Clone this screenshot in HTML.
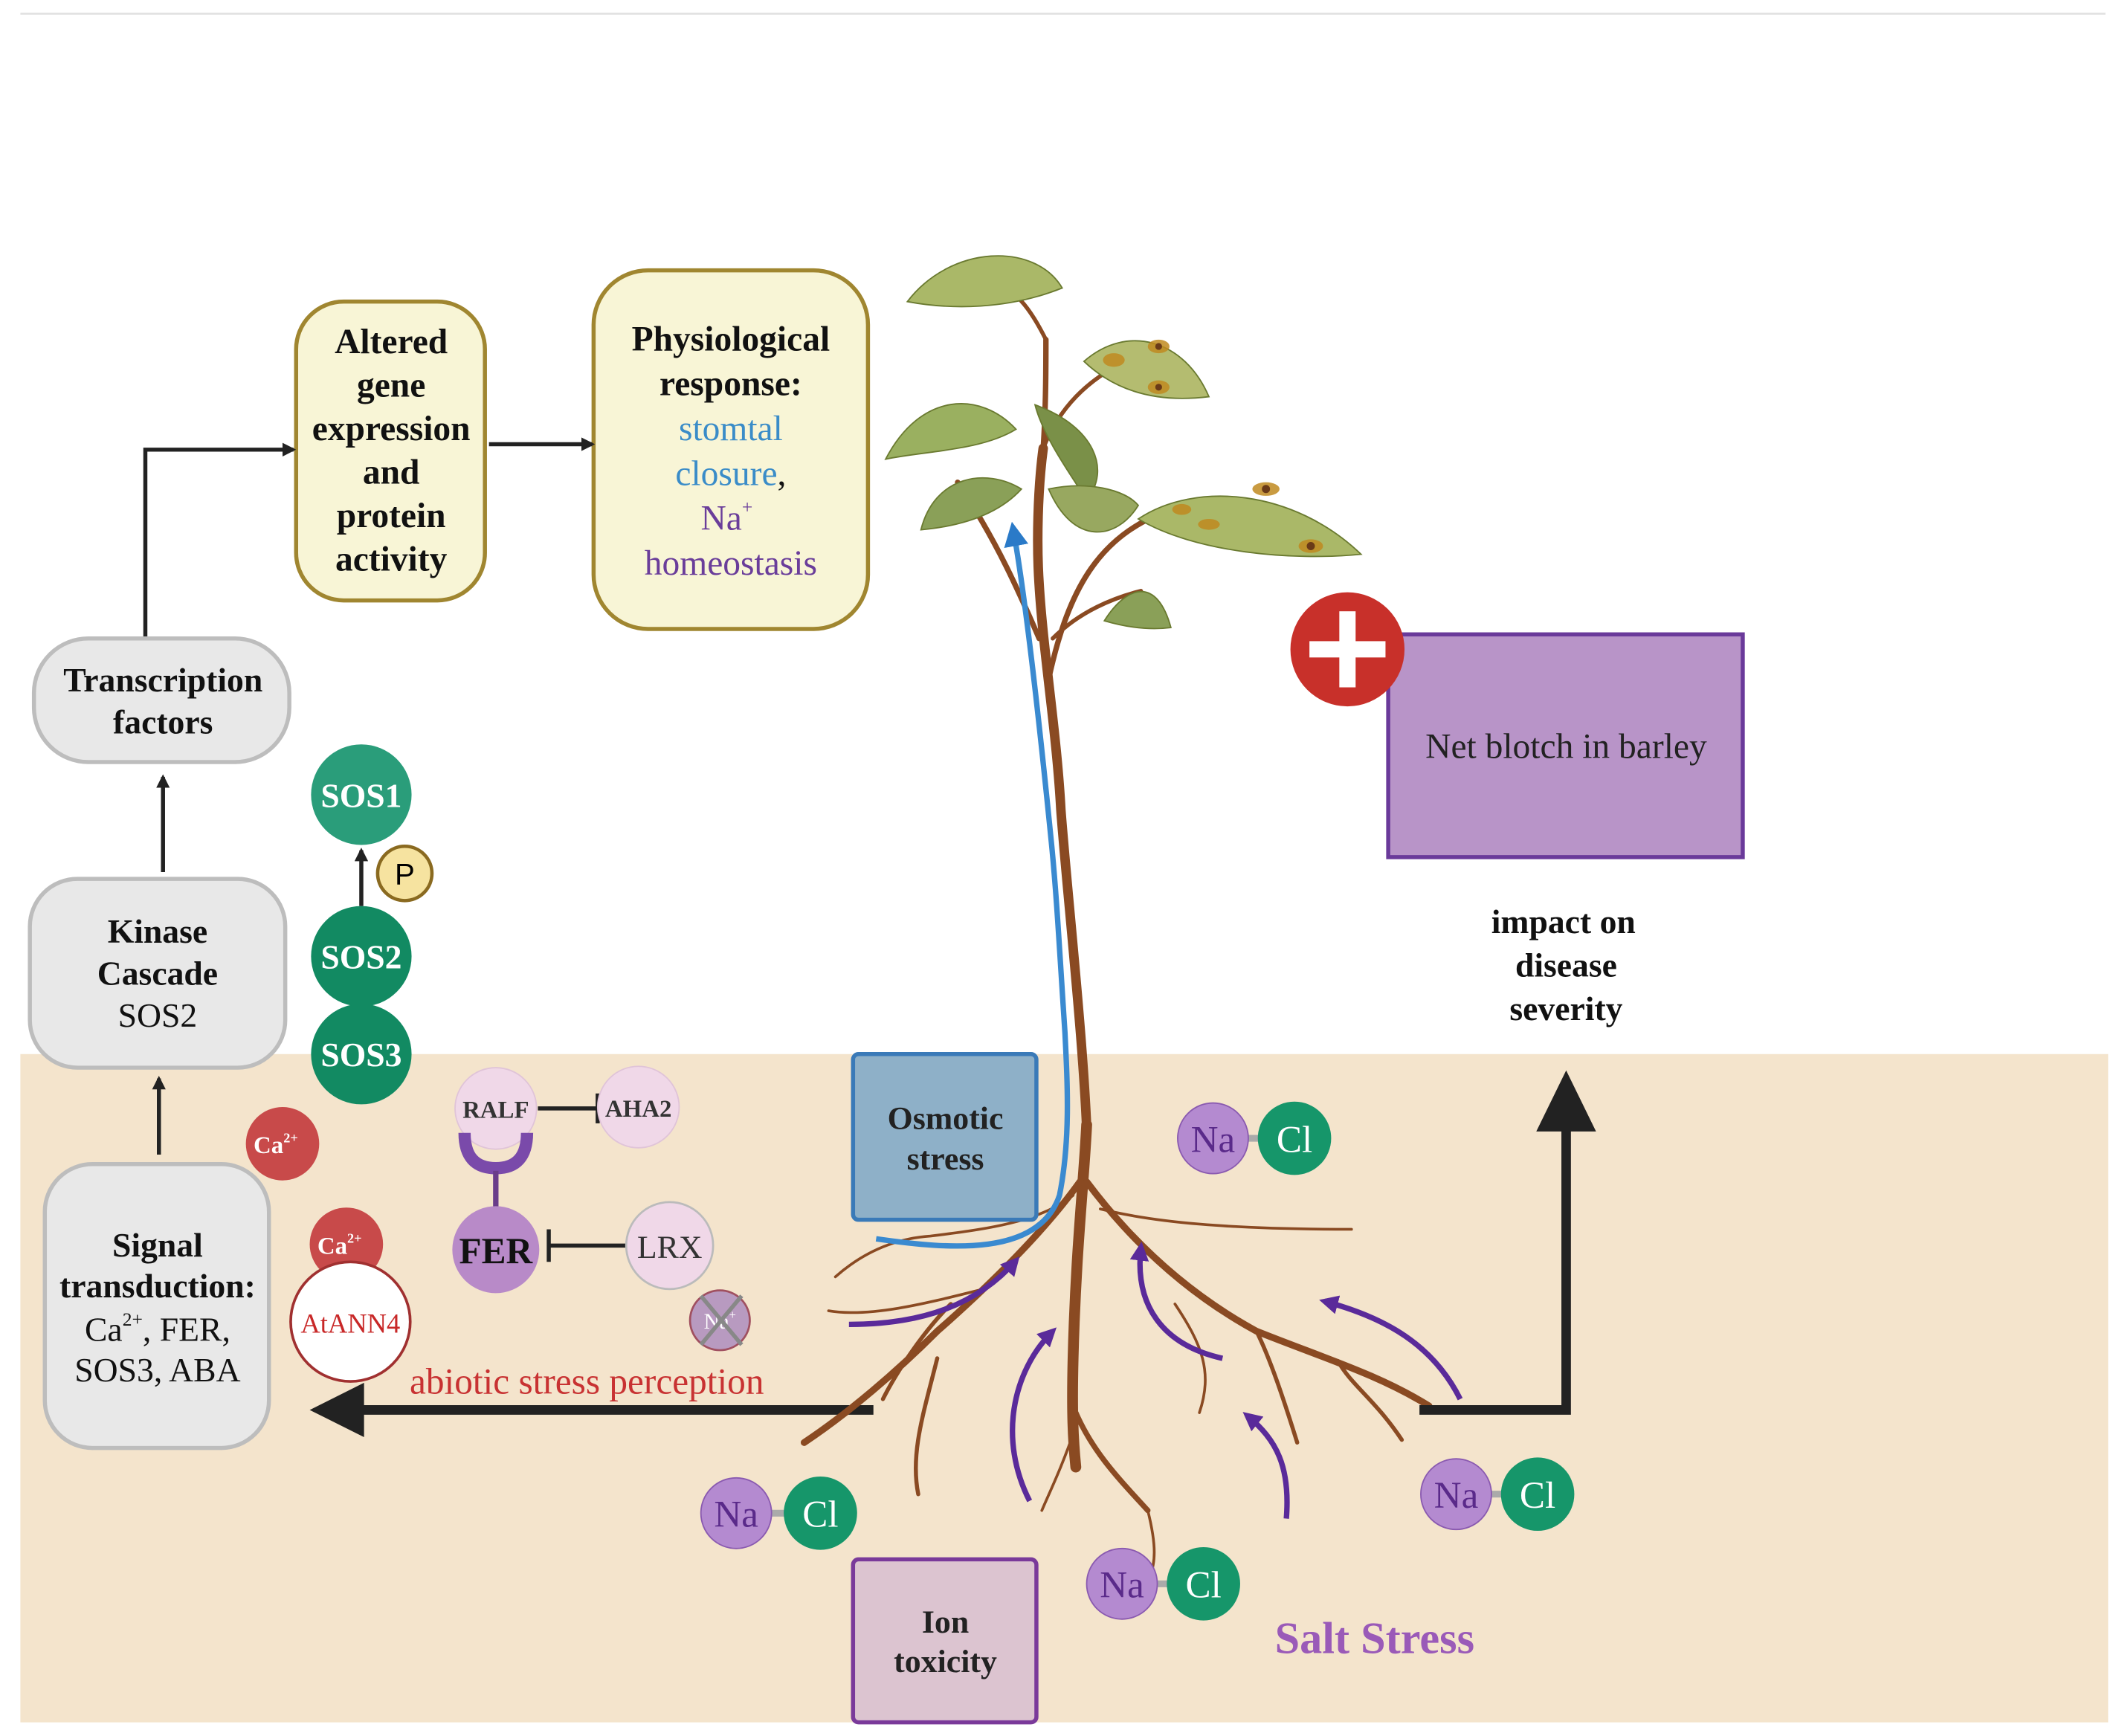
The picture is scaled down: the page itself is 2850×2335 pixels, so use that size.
<!DOCTYPE html>
<html><head><meta charset="utf-8"><style>
html,body{margin:0;padding:0;background:#fff;}
svg{display:block;}
text{font-family:"Liberation Serif",serif;}
</style></head><body>
<svg width="2850" height="2335" viewBox="0 0 1560 1278" xmlns="http://www.w3.org/2000/svg">
<defs>
<marker id="ah" markerWidth="10" markerHeight="10" refX="8" refY="5" orient="auto" markerUnits="userSpaceOnUse"><path d="M0,0 L10,5 L0,10 z" fill="#222"/></marker>
<marker id="pa" markerWidth="14" markerHeight="14" refX="10" refY="7" orient="auto" markerUnits="userSpaceOnUse"><path d="M0,0 L14,7 L0,14 z" fill="#5a2a9a"/></marker>
<marker id="ba" markerWidth="18" markerHeight="18" refX="12" refY="9" orient="auto" markerUnits="userSpaceOnUse"><path d="M0,0 L18,9 L0,18 z" fill="#2a7ac8"/></marker>
</defs>
<line x1="15" y1="10" x2="1550" y2="10" stroke="#e2e2e2" stroke-width="1.5"/>
<rect x="15" y="776" width="1537" height="492" fill="#f4e4cc"/>

<rect x="218" y="222" width="139" height="220" rx="35" fill="#f8f5d6" stroke="#a08630" stroke-width="3"/>
<g font-weight="bold" font-size="26" text-anchor="middle" fill="#111">
<text x="288" y="260">Altered</text><text x="288" y="292">gene</text><text x="288" y="324">expression</text><text x="288" y="356">and</text><text x="288" y="388">protein</text><text x="288" y="420">activity</text>
</g>
<rect x="437" y="199" width="202" height="264" rx="40" fill="#f8f5d6" stroke="#a08630" stroke-width="3"/>
<g font-size="26" text-anchor="middle">
<text x="538" y="258" font-weight="bold" fill="#111">Physiological</text>
<text x="538" y="291" font-weight="bold" fill="#111">response:</text>
<text x="538" y="324" fill="#3a8cc8">stomtal</text>
<text x="538" y="357"><tspan fill="#3a8cc8">closure</tspan><tspan fill="#111">,</tspan></text>
<text x="535" y="390" fill="#6a3d9a">Na<tspan font-size="14" dy="-12">+</tspan></text>
<text x="538" y="423" fill="#6a3d9a">homeostasis</text>
</g>
<line x1="360" y1="327" x2="436" y2="327" stroke="#222" stroke-width="3" marker-end="url(#ah)"/>
<polyline points="107,470 107,331 216,331" fill="none" stroke="#222" stroke-width="3" marker-end="url(#ah)"/>

<rect x="25" y="470" width="188" height="91" rx="40" fill="#e8e8e8" stroke="#bdbdbd" stroke-width="3"/>
<g font-weight="bold" font-size="25" text-anchor="middle" fill="#111">
<text x="120" y="509">Transcription</text><text x="120" y="540">factors</text></g>
<line x1="120" y1="642" x2="120" y2="572" stroke="#222" stroke-width="3" marker-end="url(#ah)"/>
<rect x="22" y="647" width="188" height="139" rx="35" fill="#e8e8e8" stroke="#bdbdbd" stroke-width="3"/>
<g font-size="25" text-anchor="middle" fill="#111">
<text x="116" y="694" font-weight="bold">Kinase</text><text x="116" y="725" font-weight="bold">Cascade</text><text x="116" y="756">SOS2</text></g>
<line x1="117" y1="850" x2="117" y2="794" stroke="#222" stroke-width="3" marker-end="url(#ah)"/>
<rect x="33" y="857" width="165" height="209" rx="35" fill="#e8e8e8" stroke="#bdbdbd" stroke-width="3"/>
<g font-size="25" text-anchor="middle" fill="#111">
<text x="116" y="925" font-weight="bold">Signal</text><text x="116" y="955" font-weight="bold">transduction:</text>
<text x="116" y="987">Ca<tspan font-size="14" dy="-11">2+</tspan><tspan dy="11">, FER,</tspan></text><text x="116" y="1017">SOS3, ABA</text></g>

<circle cx="266" cy="776" r="37" fill="#128a62"/>
<circle cx="266" cy="704" r="37" fill="#128a62"/>
<circle cx="266" cy="585" r="37" fill="#2a9d7a"/>
<g font-weight="bold" font-size="25" text-anchor="middle" fill="#fff">
<text x="266" y="594">SOS1</text><text x="266" y="713">SOS2</text><text x="266" y="785">SOS3</text></g>
<line x1="266" y1="667" x2="266" y2="626" stroke="#222" stroke-width="3" marker-end="url(#ah)"/>
<circle cx="298" cy="643" r="20" fill="#f6e3a0" stroke="#8a6a20" stroke-width="2.5"/>
<text x="298" y="651" text-anchor="middle" font-size="22" style="font-family:'Liberation Sans',sans-serif">P</text>

<circle cx="208" cy="842" r="27" fill="#c84a4a"/>
<text x="203" y="849" text-anchor="middle" font-size="18" font-weight="bold" fill="#fff">Ca<tspan font-size="10" dy="-8">2+</tspan></text>
<circle cx="255" cy="916" r="27" fill="#c84a4a"/>
<text x="250" y="923" text-anchor="middle" font-size="18" font-weight="bold" fill="#fff">Ca<tspan font-size="10" dy="-8">2+</tspan></text>
<circle cx="258" cy="973" r="44" fill="#fff" stroke="#a03030" stroke-width="2"/>
<text x="258" y="981" text-anchor="middle" font-size="20" fill="#c82828">AtANN4</text>

<line x1="396" y1="816" x2="440" y2="816" stroke="#222" stroke-width="3"/><line x1="440" y1="805" x2="440" y2="827" stroke="#222" stroke-width="3"/>
<circle cx="470" cy="815" r="30" fill="#f0d8e8" stroke="#e0c4d8"/>
<text x="470" y="822" text-anchor="middle" font-size="18" font-weight="bold" fill="#333">AHA2</text>
<circle cx="365" cy="816" r="30" fill="#f0d8e8" stroke="#e0c4d8"/>
<path d="M342,834 Q342,860 365,860 Q388,860 388,834" fill="none" stroke="#7a4aaa" stroke-width="9"/>
<line x1="365" y1="862" x2="365" y2="890" stroke="#6a3d8a" stroke-width="4"/>
<text x="365" y="823" text-anchor="middle" font-size="18" font-weight="bold" fill="#333">RALF</text>
<circle cx="365" cy="920" r="32" fill="#b88ac8"/>
<text x="365" y="930" text-anchor="middle" font-size="27" font-weight="bold" fill="#111">FER</text>
<line x1="404" y1="917" x2="462" y2="917" stroke="#222" stroke-width="3"/><line x1="404" y1="905" x2="404" y2="929" stroke="#222" stroke-width="3"/>
<circle cx="493" cy="917" r="32" fill="#f0d8e8" stroke="#bbb" stroke-width="1.5"/>
<text x="493" y="926" text-anchor="middle" font-size="24" fill="#333">LRX</text>
<circle cx="530" cy="972" r="22" fill="#b89ac0" stroke="#a05060" stroke-width="1.5"/>
<text x="530" y="978" text-anchor="middle" font-size="16" fill="#fff">Na<tspan font-size="9" dy="-7">+</tspan></text>
<path d="M516,954 L546,990 M546,954 L516,990" stroke="#888" stroke-width="3"/>

<text x="432" y="1026" text-anchor="middle" font-size="27" fill="#c83232">abiotic stress perception</text>
<line x1="643" y1="1038" x2="262" y2="1038" stroke="#222" stroke-width="7"/>
<path d="M228,1038 L268,1018 L268,1058 z" fill="#222"/>

<!-- roots -->
<g fill="none" stroke="#8a4a22" stroke-linecap="round">
<path d="M800,828 C798,870 792,920 790,1000 C789,1040 790,1060 792,1080" stroke-width="8"/>
<path d="M795,870 C770,905 730,945 690,980 C660,1010 625,1040 592,1062" stroke-width="5"/>
<path d="M800,870 C830,910 870,950 925,980 C975,1000 1015,1012 1052,1035" stroke-width="5"/>
<path d="M792,1040 C805,1070 825,1090 845,1112" stroke-width="4"/>
<path d="M700,960 C680,980 660,1010 650,1030 M690,1000 C680,1040 670,1070 676,1100" stroke-width="3"/>
<path d="M925,980 C935,1000 945,1030 955,1062 M985,1002 C995,1020 1012,1030 1032,1060" stroke-width="3"/>
<path d="M790,880 C765,900 725,905 685,910 C655,912 632,925 615,940" stroke-width="2"/>
<path d="M810,890 C850,900 905,905 995,905" stroke-width="2"/>
<path d="M720,950 C680,960 640,970 610,965 M865,960 C885,990 893,1010 883,1040 M845,1112 C852,1140 850,1150 847,1160 M792,1050 C782,1080 772,1100 767,1112" stroke-width="2"/>
</g>
<!-- stem -->
<g fill="none" stroke="#8a4a22" stroke-linecap="round">
<path d="M800,830 C797,760 785,650 781,596 C778,540 768,480 765,430 C763,400 764,360 768,330" stroke-width="7"/>
<path d="M768,330 C770,300 770,270 770,250" stroke-width="4"/>
<path d="M765,470 C752,440 735,400 705,355" stroke-width="4"/>
<path d="M772,500 C785,440 805,400 850,380" stroke-width="4"/>
<path d="M768,330 C780,300 800,280 830,265" stroke-width="3"/>
<path d="M770,250 C760,230 750,215 730,205" stroke-width="3"/>
<path d="M775,470 C795,450 820,440 840,435" stroke-width="3"/>
</g>
<g stroke="#6a7a30" stroke-width="1">
<path d="M668,222 C700,180 762,178 782,212 C742,228 700,228 668,222 z" fill="#aab868"/>
<path d="M652,338 C678,288 722,288 748,316 C722,332 680,332 652,338 z" fill="#9ab060"/>
<path d="M678,390 C688,350 726,344 752,360 C732,382 700,388 678,390 z" fill="#8aa058"/>
<path d="M762,298 C768,322 790,352 800,368 C818,346 806,314 762,298 z" fill="#7a9048"/>
<path d="M772,360 C800,354 828,360 838,372 C822,398 790,402 772,360 z" fill="#98a860"/>
<path d="M798,266 C830,238 872,250 890,292 C850,297 820,287 798,266 z" fill="#b4bc70"/>
<path d="M838,382 C880,354 952,360 1002,408 C952,413 880,407 838,382 z" fill="#aab868"/>
<path d="M813,457 C830,430 852,425 862,462 C846,464 830,462 813,457 z" fill="#8aa058"/>
</g>
<g fill="#c08a20" opacity="0.85">
<ellipse cx="820" cy="265" rx="8" ry="5"/><ellipse cx="853" cy="255" rx="8" ry="5"/><ellipse cx="853" cy="285" rx="8" ry="5"/>
<ellipse cx="870" cy="375" rx="7" ry="4"/><ellipse cx="932" cy="360" rx="10" ry="5"/><ellipse cx="890" cy="386" rx="8" ry="4"/><ellipse cx="965" cy="402" rx="9" ry="5"/>
</g>
<g fill="#6a3a18"><circle cx="853" cy="255" r="2.5"/><circle cx="853" cy="285" r="2.5"/><circle cx="932" cy="360" r="3"/><circle cx="965" cy="402" r="3"/></g>

<rect x="628" y="776" width="135" height="122" rx="4" fill="#8eb0c8" stroke="#3a7ab8" stroke-width="3"/>
<g font-size="24" text-anchor="middle" font-weight="bold" fill="#222"><text x="696" y="831">Osmotic</text><text x="696" y="861">stress</text></g>
<rect x="628" y="1148" width="135" height="120" rx="4" fill="#dcc4d0" stroke="#7a3a9a" stroke-width="3"/>
<g font-size="24" text-anchor="middle" font-weight="bold" fill="#222"><text x="696" y="1202">Ion</text><text x="696" y="1231">toxicity</text></g>

<path d="M645,912 C700,920 765,925 780,880 C788,840 786,800 784,760 C780,700 778,660 774,620 C765,530 755,440 746,390" fill="none" stroke="#3a8ad0" stroke-width="4" marker-end="url(#ba)"/>
<g fill="none" stroke="#5a2a9a" stroke-width="4">
<path d="M625,975 C680,975 720,960 748,928" marker-end="url(#pa)"/>
<path d="M758,1105 C735,1060 745,1010 775,980" marker-end="url(#pa)"/>
<path d="M900,1000 C855,990 835,960 840,918" marker-end="url(#pa)"/>
<path d="M947,1118 C950,1080 940,1060 918,1042" marker-end="url(#pa)"/>
<path d="M1075,1030 C1055,990 1020,970 975,958" marker-end="url(#pa)"/>
</g>

<g style="font-family:'Liberation Sans',sans-serif" font-size="28" text-anchor="middle">
<g><line x1="542" y1="1114" x2="604" y2="1114" stroke="#aaa" stroke-width="5"/><circle cx="542" cy="1114" r="26" fill="#b48ad0" stroke="#8a5ab0"/><circle cx="604" cy="1114" r="27" fill="#16966a"/><text x="542" y="1124" fill="#5a2a8a">Na</text><text x="604" y="1124" fill="#fff">Cl</text></g>
<g><line x1="893" y1="838" x2="953" y2="838" stroke="#aaa" stroke-width="5"/><circle cx="893" cy="838" r="26" fill="#b48ad0" stroke="#8a5ab0"/><circle cx="953" cy="838" r="27" fill="#16966a"/><text x="893" y="848" fill="#5a2a8a">Na</text><text x="953" y="848" fill="#fff">Cl</text></g>
<g><line x1="826" y1="1166" x2="886" y2="1166" stroke="#aaa" stroke-width="5"/><circle cx="826" cy="1166" r="26" fill="#b48ad0" stroke="#8a5ab0"/><circle cx="886" cy="1166" r="27" fill="#16966a"/><text x="826" y="1176" fill="#5a2a8a">Na</text><text x="886" y="1176" fill="#fff">Cl</text></g>
<g><line x1="1072" y1="1100" x2="1132" y2="1100" stroke="#aaa" stroke-width="5"/><circle cx="1072" cy="1100" r="26" fill="#b48ad0" stroke="#8a5ab0"/><circle cx="1132" cy="1100" r="27" fill="#16966a"/><text x="1072" y="1110" fill="#5a2a8a">Na</text><text x="1132" y="1110" fill="#fff">Cl</text></g>
</g>
<text x="1012" y="1217" text-anchor="middle" font-size="33" font-weight="bold" fill="#9a5ab8">Salt Stress</text>

<rect x="1022" y="467" width="261" height="164" fill="#b894c8" stroke="#6a3a9a" stroke-width="3"/>
<text x="1153" y="558" text-anchor="middle" font-size="26" fill="#222">Net blotch in barley</text>
<circle cx="992" cy="478" r="42" fill="#c8302a"/>
<rect x="964" y="472" width="56" height="12" fill="#fff"/><rect x="986" y="450" width="12" height="56" fill="#fff"/>
<g font-size="25" font-weight="bold" text-anchor="middle" fill="#111">
<text x="1151" y="687">impact on</text><text x="1153" y="719">disease</text><text x="1153" y="751">severity</text></g>
<polyline points="1045,1038 1153,1038 1153,832" fill="none" stroke="#222" stroke-width="7"/>
<path d="M1153,788 L1175,833 L1131,833 z" fill="#222"/>
</svg>
</body></html>
